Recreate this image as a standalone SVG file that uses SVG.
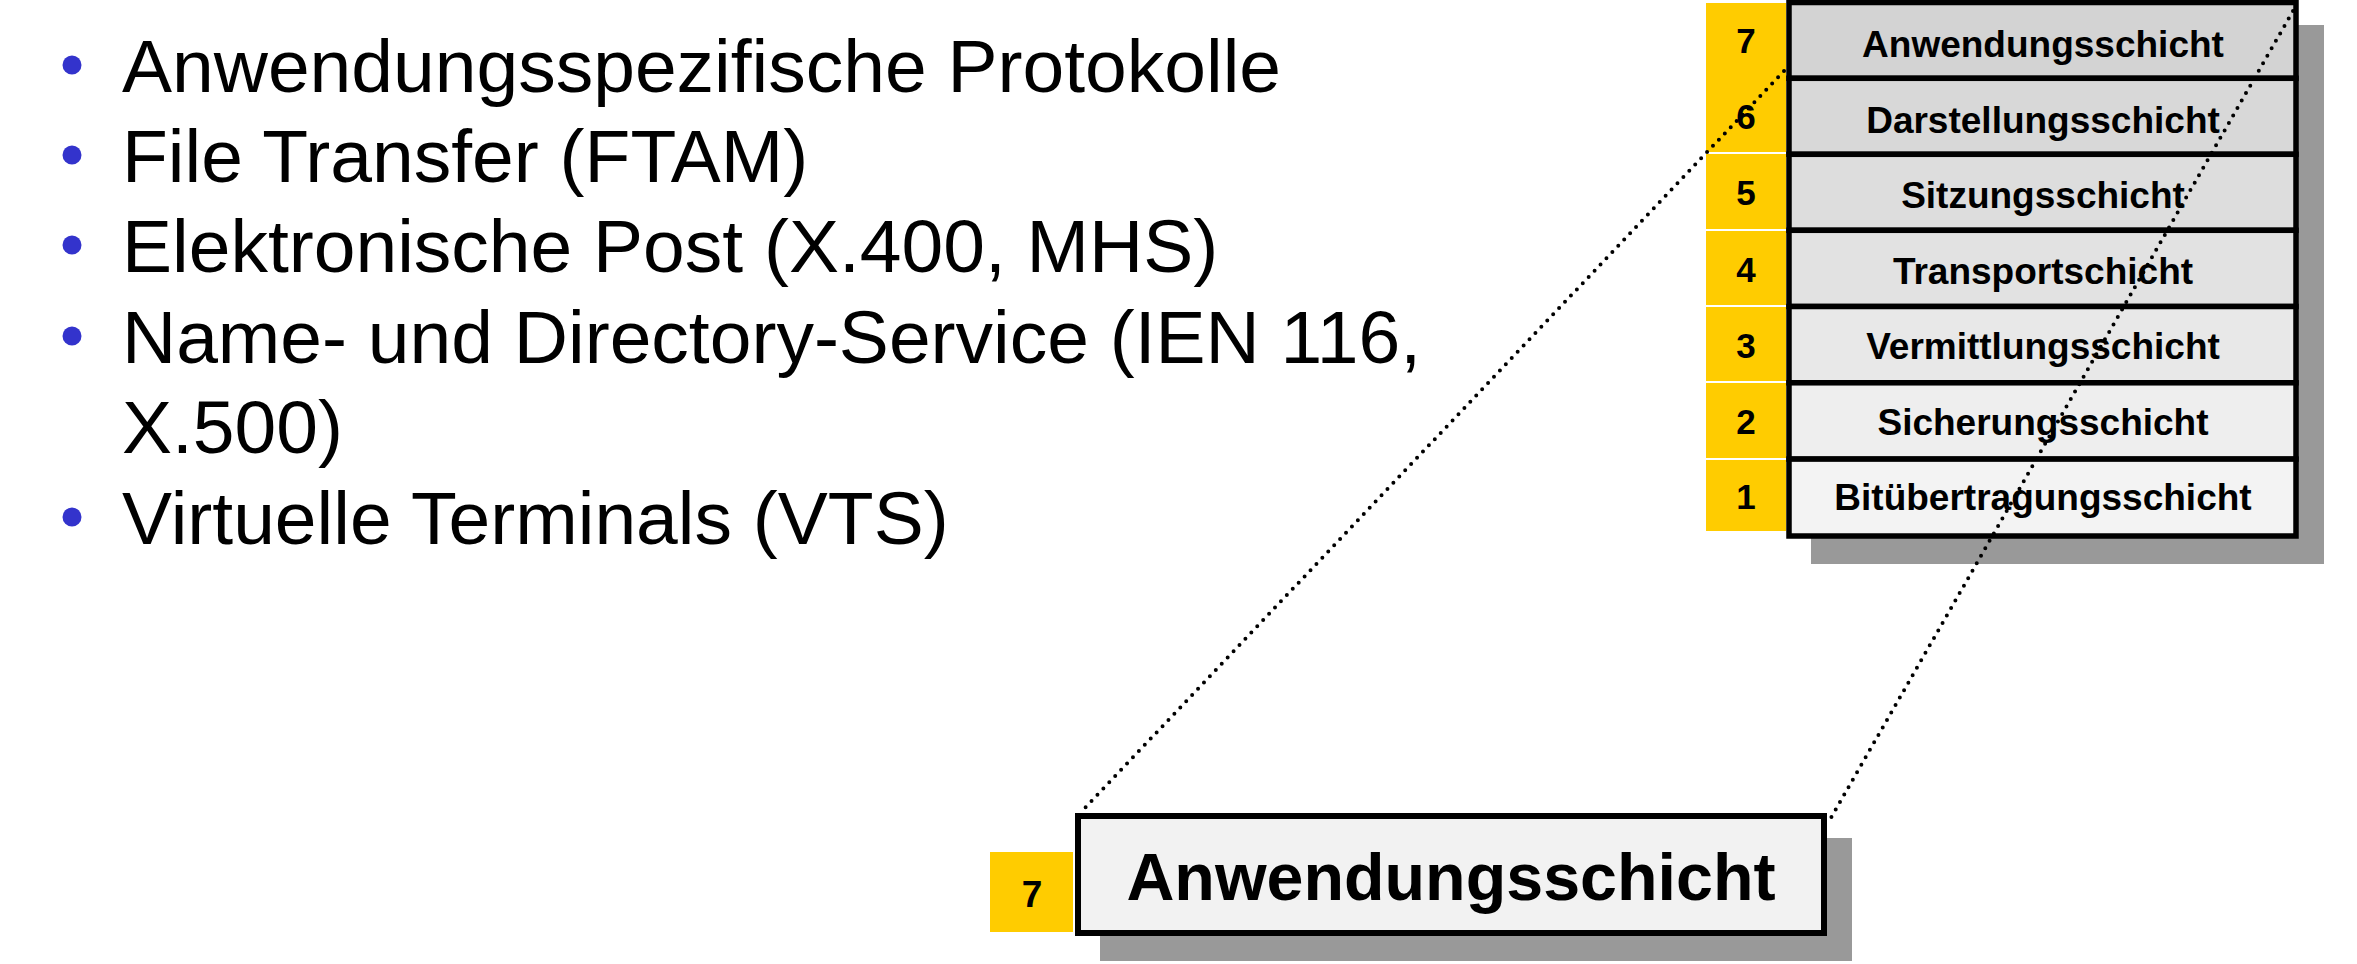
<svg xmlns="http://www.w3.org/2000/svg" width="2357" height="964" viewBox="0 0 2357 964">
<style>
.bul{font-family:"Liberation Sans",Arial,sans-serif;font-size:75px;fill:#000}
.dot{fill:#3333cc}
.lbl{font-family:"Liberation Sans",Arial,sans-serif;font-weight:bold;font-size:37px;fill:#000;text-anchor:middle}
.num{font-family:"Liberation Sans",Arial,sans-serif;font-weight:bold;font-size:35px;fill:#000;text-anchor:middle}
.row{stroke:#000;stroke-width:5.5}
.shadow{fill:#999999}
.yel{fill:#ffcc00}
.sep{stroke:#ffffff;stroke-width:2}
.conn{fill:none;stroke:#000;stroke-width:4;stroke-linecap:round;stroke-dasharray:0 8.6}
</style>
<rect width="2357" height="964" fill="#ffffff"/>
<g id="bullets">
<circle class="dot" cx="72" cy="65" r="9.5"/>
<text class="bul" x="122" y="92">Anwendungsspezifische Protokolle</text>
<circle class="dot" cx="72" cy="155" r="9.5"/>
<text class="bul" x="122" y="182">File Transfer (FTAM)</text>
<circle class="dot" cx="72" cy="245" r="9.5"/>
<text class="bul" x="122" y="272">Elektronische Post (X.400, MHS)</text>
<circle class="dot" cx="72" cy="336" r="9.5"/>
<text class="bul" x="122" y="363">Name- und Directory-Service (IEN 116,</text>
<text class="bul" x="122" y="453">X.500)</text>
<circle class="dot" cx="72" cy="517" r="9.5"/>
<text class="bul" x="122" y="544">Virtuelle Terminals (VTS)</text>
</g>
<g id="osi-stack">
<rect class="shadow" x="1811" y="25" width="513" height="539"/>
<rect class="yel" x="1706" y="3" width="80" height="528"/>
<line class="sep" x1="1706" y1="153" x2="1786" y2="153"/>
<line class="sep" x1="1706" y1="230" x2="1786" y2="230"/>
<line class="sep" x1="1706" y1="306" x2="1786" y2="306"/>
<line class="sep" x1="1706" y1="382" x2="1786" y2="382"/>
<line class="sep" x1="1706" y1="459" x2="1786" y2="459"/>
<g id="layer7"><rect class="row" x="1789" y="2.5" width="507" height="75.8" fill="#d3d3d3"/><text class="num" x="1746" y="53">7</text><text class="lbl" x="2043" y="57">Anwendungsschicht</text></g>
<g id="layer6"><rect class="row" x="1789" y="78.3" width="507" height="76" fill="#d8d8d8"/><text class="num" x="1746" y="129">6</text><text class="lbl" x="2043" y="132.5">Darstellungsschicht</text></g>
<g id="layer5"><rect class="row" x="1789" y="154.3" width="507" height="76" fill="#dddddd"/><text class="num" x="1746" y="205">5</text><text class="lbl" x="2043" y="208">Sitzungsschicht</text></g>
<g id="layer4"><rect class="row" x="1789" y="230.3" width="507" height="76.2" fill="#e2e2e2"/><text class="num" x="1746" y="281.5">4</text><text class="lbl" x="2043" y="283.5">Transportschicht</text></g>
<g id="layer3"><rect class="row" x="1789" y="306.5" width="507" height="76.3" fill="#e8e8e8"/><text class="num" x="1746" y="358">3</text><text class="lbl" x="2043" y="359">Vermittlungsschicht</text></g>
<g id="layer2"><rect class="row" x="1789" y="382.8" width="507" height="76.3" fill="#eeeeee"/><text class="num" x="1746" y="434">2</text><text class="lbl" x="2043" y="434.5">Sicherungsschicht</text></g>
<g id="layer1"><rect class="row" x="1789" y="459.1" width="507" height="76.9" fill="#f3f3f3"/><text class="num" x="1746" y="509">1</text><text class="lbl" x="2043" y="510">Bitübertragungsschicht</text></g>
</g>
<g id="layer7-detail">
<rect class="shadow" x="1100" y="838" width="752" height="123"/>
<rect class="yel" x="990" y="852" width="83" height="80"/>
<text class="num" x="1032" y="907" style="font-size:37px">7</text>
<rect x="1078" y="816" width="746" height="117" fill="#f2f2f2" stroke="#000" stroke-width="6"/>
<text class="lbl" x="1451" y="900" style="font-size:66.4px">Anwendungsschicht</text>
</g>
<g id="connectors">
<line class="conn" x1="1784" y1="71" x2="1083" y2="810"/>
<line class="conn" x1="2293" y1="11" x2="1828" y2="823"/>
</g>
</svg>
